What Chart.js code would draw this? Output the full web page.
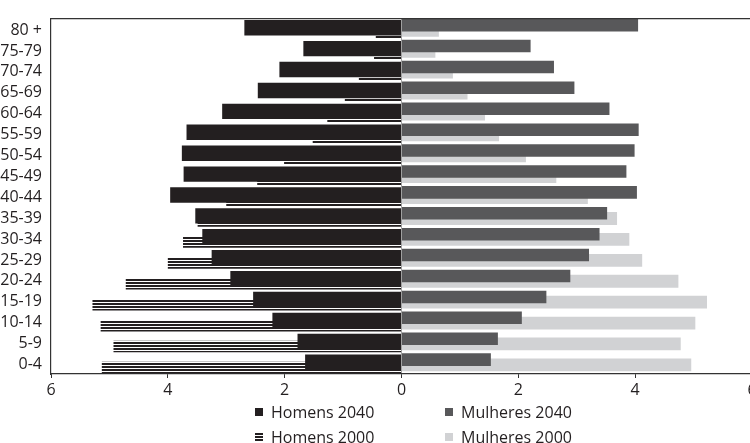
<!DOCTYPE html>
<html>
<head>
<meta charset="utf-8">
<script src="https://cdn.jsdelivr.net/npm/chart.js@4/dist/chart.umd.min.js"></script>
<style>
  body { margin: 0; background: #fff; }
  #wrap { position: relative; width: 750px; height: 443px; overflow: hidden; }
  #grafico { position: absolute; left: 0; top: 0; }
  .leg { position: absolute; font: 16px "Open Sans", sans-serif; color: #231f20; line-height: 20px; height: 20px; white-space: nowrap; }
  .leg i { position: absolute; left: 0; top: 6px; width: 8px; height: 8px; }
  .leg span { position: absolute; left: 16px; top: 0; }
</style>
</head>
<body>
<div id="wrap">
  <canvas id="grafico" width="760" height="443"></canvas>
</div>
<script>
var categorias = ['80 +', '75-79', '70-74', '65-69', '60-64', '55-59', '50-54', '45-49', '40-44',
                  '35-39', '30-34', '25-29', '20-24', '15-19', '10-14', '5-9', '0-4'];
var homens2040 = [2.69, 1.68, 2.09, 2.46, 3.07, 3.68, 3.76, 3.73, 3.96, 3.53, 3.41, 3.25, 2.93, 2.54, 2.21, 1.78, 1.65];
var homens2000 = [0.44, 0.47, 0.73, 0.97, 1.27, 1.52, 2.01, 2.47, 3.00, 3.49, 3.74, 4.00, 4.72, 5.29, 5.15, 4.93, 5.13];
var mulheres2040 = [4.05, 2.21, 2.61, 2.96, 3.56, 4.06, 3.99, 3.85, 4.03, 3.52, 3.39, 3.21, 2.89, 2.48, 2.06, 1.65, 1.53];
var mulheres2000 = [0.64, 0.58, 0.88, 1.13, 1.43, 1.67, 2.13, 2.65, 3.19, 3.69, 3.90, 4.12, 4.74, 5.23, 5.03, 4.78, 4.96];
var limiteX = 6;

document.addEventListener('DOMContentLoaded', function(){
    // listras horizontais para Homens 2000
    var c = document.createElement('canvas');
    c.width = 4; c.height = 3;
    var g = c.getContext('2d');
    g.fillStyle = '#ffffff'; g.fillRect(0, 0, 4, 3);
    g.fillStyle = '#231f20'; g.fillRect(0, 0, 4, 2);
    var listras = g.createPattern(c, 'repeat');

    var neg = function(v){ return -v; };

    var data = {
        labels: categorias,
        datasets: [
            { label: 'Mulheres 2040', data: mulheres2040, backgroundColor: '#58585a',
              categoryPercentage: 0.5, barPercentage: 4.8 },
            { label: 'Homens 2040', data: homens2040.map(neg), backgroundColor: '#231f20',
              categoryPercentage: 0.5, barPercentage: 5.9 },
            { label: 'Mulheres 2000', data: mulheres2000, backgroundColor: '#d1d2d4',
              categoryPercentage: 0.5, barPercentage: 4.9 },
            { label: 'Homens 2000', data: homens2000.map(neg), backgroundColor: listras,
              categoryPercentage: 0.5, barPercentage: 4.4 }
        ]
    };

    var bordaTopo = {
        id: 'bordaTopo',
        afterDraw: function(chart){
            var ctx = chart.ctx, a = chart.chartArea;
            ctx.save();
            ctx.strokeStyle = '#333';
            ctx.lineWidth = 1.2;
            ctx.beginPath();
            ctx.moveTo(a.left, a.top);
            ctx.lineTo(a.right, a.top);
            ctx.stroke();
            ctx.restore();
        }
    };

    var fonte = { family: '"Open Sans", sans-serif', size: 16 };

    var options = {
        indexAxis: 'y',
        responsive: false,
        animation: false,
        layout: { padding: { top: 13, right: 8, bottom: 41, left: 0 } },
        plugins: { legend: { display: false }, tooltip: { enabled: false } },
        scales: {
            x: {
                min: -limiteX, max: limiteX,
                ticks: { stepSize: 2, padding: 3, color: '#231f20', font: fonte,
                         callback: function(v){ return Math.abs(v); } },
                grid: {
                    color: function(ctx){ return ctx.tick && ctx.tick.value === 0 ? '#a0a0a0' : 'rgba(0,0,0,0)'; },
                    tickColor: '#333', tickLength: 4
                },
                border: { color: '#333', width: 1.2 },
                afterFit: function(s){ s.height = 28; }
            },
            y: {
                ticks: { padding: 9, color: '#231f20', font: fonte, labelOffset: 1, autoSkip: false },
                grid: { display: false, drawTicks: false },
                border: { color: '#333', width: 1.2 },
                afterFit: function(s){ s.width = 51; }
            }
        }
    };

    var ctx = document.getElementById('grafico').getContext('2d');
    var myChart = new Chart(ctx, { type: 'bar', data: data, options: options, plugins: [bordaTopo] });

    // legenda em duas linhas
    var itens = [
        { nome: myChart.data.datasets[1].label, fundo: '#231f20', x: 255, y: 402 },
        { nome: myChart.data.datasets[0].label, fundo: '#58585a', x: 445, y: 402 },
        { nome: myChart.data.datasets[3].label, fundo: 'repeating-linear-gradient(to bottom, #231f20 0 2px, #fff 2px 3px)', x: 255, y: 427 },
        { nome: myChart.data.datasets[2].label, fundo: '#d1d2d4', x: 445, y: 427 }
    ];
    var wrap = document.getElementById('wrap');
    itens.forEach(function(it){
        var d = document.createElement('div');
        d.className = 'leg';
        d.style.left = it.x + 'px';
        d.style.top = it.y + 'px';
        var m = document.createElement('i');
        m.style.background = it.fundo;
        var t = document.createElement('span');
        t.textContent = it.nome;
        d.appendChild(m); d.appendChild(t);
        wrap.appendChild(d);
    });
});
</script>
</body>
</html>
